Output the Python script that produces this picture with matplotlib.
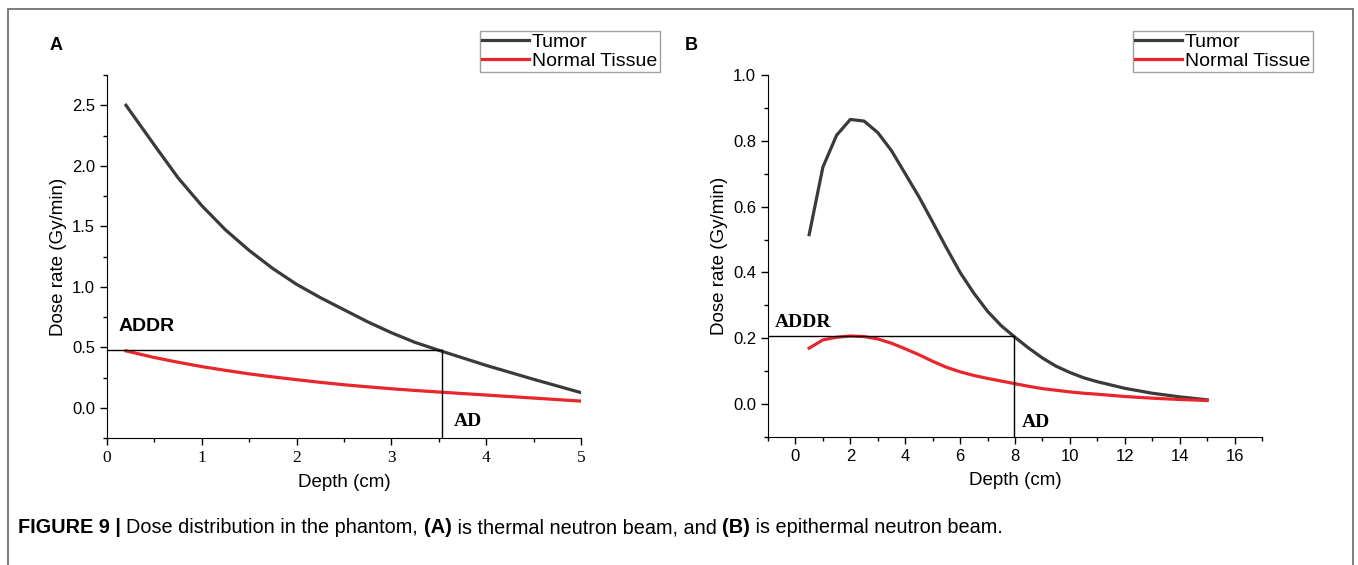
import numpy as np
import matplotlib.pyplot as plt
from matplotlib.patches import Rectangle
from matplotlib.ticker import MultipleLocator

plt.rcParams['font.family'] = ['Liberation Sans', 'DejaVu Sans']

# panel A: thermal neutron beam
depth_a = [0.2, 0.5, 0.75, 1.0, 1.25, 1.5, 1.75, 2.0, 2.25, 2.5, 2.75, 3.0, 3.25, 3.5,
           4.0, 4.5, 5.0]
tumor_a = [2.50, 2.17, 1.90, 1.67, 1.47, 1.30, 1.15, 1.02, 0.91, 0.81, 0.71, 0.62, 0.54,
           0.475, 0.35, 0.235, 0.125]
normal_a = [0.47, 0.415, 0.376, 0.34, 0.309, 0.28, 0.255, 0.232, 0.21, 0.19, 0.173,
            0.157, 0.143, 0.13, 0.105, 0.08, 0.055]
addr_a, ad_a = 0.475, 3.53

# panel B: epithermal neutron beam
depth_b = [0.5, 1.0, 1.5, 2.0, 2.5, 3.0, 3.5, 4.0, 4.5, 5.0, 5.5, 6.0, 6.5, 7.0,
           7.5, 8.0, 8.5, 9.0, 9.5, 10.0, 10.5, 11.0, 12.0, 13.0, 14.0, 15.0]
tumor_b = [0.515, 0.72, 0.817, 0.865, 0.86, 0.825, 0.77, 0.70, 0.63, 0.553, 0.475, 0.40,
           0.337, 0.282, 0.238, 0.203, 0.17, 0.14, 0.115, 0.096, 0.08, 0.068, 0.048,
           0.033, 0.022, 0.013]
normal_b = [0.17, 0.195, 0.203, 0.207, 0.205, 0.198, 0.185, 0.168, 0.15, 0.13, 0.112,
            0.098, 0.087, 0.078, 0.07, 0.062, 0.054, 0.047, 0.042, 0.037, 0.033, 0.03,
            0.023, 0.018, 0.014, 0.011]
addr_b, ad_b = 0.207, 7.95

tumor_col = '#3a3a3a'
normal_col = '#e8262b'

fig = plt.figure(figsize=(13.58, 5.65), dpi=100)

# outer frame of the figure panel
fig.patches.append(Rectangle((8 / 1358, -0.02), 1345 / 1358, 1.02 - 9 / 565,
                             transform=fig.transFigure, fill=False,
                             edgecolor='#666666', lw=1.2))


def style_axes(ax):
    ax.spines['top'].set_visible(False)
    ax.spines['right'].set_visible(False)
    ax.tick_params(which='major', direction='out', length=5, width=1, labelsize=12)
    ax.tick_params(which='minor', direction='out', length=3, width=1)
    ax.set_xlabel('Depth (cm)', fontsize=13.5, labelpad=6)
    ax.set_ylabel('Dose rate (Gy/min)', fontsize=13.5)


def add_legend(ax, x_px):
    ax.legend(loc='upper left', bbox_to_anchor=(x_px / 1358, 1 - 31 / 565),
              bbox_transform=fig.transFigure, fontsize=14, frameon=True,
              fancybox=False, edgecolor='#888888', handlelength=2.4,
              handletextpad=0.15, borderpad=0.12, labelspacing=0.05,
              borderaxespad=0)


# ---- panel A
ax = fig.add_axes([107 / 1358, 1 - 438 / 565, 474 / 1358, 363 / 565])
ax.plot(depth_a, tumor_a, color=tumor_col, lw=2.3, label='Tumor')
ax.plot(depth_a, normal_a, color=normal_col, lw=2.3, label='Normal Tissue')
ax.plot([0, ad_a], [addr_a, addr_a], color='black', lw=1)
ax.plot([ad_a, ad_a], [-0.25, addr_a], color='black', lw=1)
ax.set_xlim(0, 5)
ax.set_ylim(-0.25, 2.75)
ax.xaxis.set_major_locator(MultipleLocator(1))
ax.xaxis.set_minor_locator(MultipleLocator(0.5))
ax.yaxis.set_major_locator(MultipleLocator(0.5))
ax.yaxis.set_minor_locator(MultipleLocator(0.25))
style_axes(ax)
for lab in ax.get_xticklabels():
    lab.set_family('Liberation Serif')
    lab.set_fontsize(12.5)
ax.text(0.12, 0.6, 'ADDR', fontsize=14, fontweight='bold', va='bottom')
ax.text(3.66, -0.11, 'AD', fontsize=14, fontweight='bold', va='center',
        family='Liberation Serif')
add_legend(ax, 480)
fig.text(50 / 1358, 1 - 45 / 565, 'A', fontsize=13, fontweight='bold', va='center')

# ---- panel B
ax = fig.add_axes([768 / 1358, 1 - 437 / 565, 494 / 1358, 362 / 565])
ax.plot(depth_b, tumor_b, color=tumor_col, lw=2.3, label='Tumor')
ax.plot(depth_b, normal_b, color=normal_col, lw=2.3, label='Normal Tissue')
ax.plot([-1, ad_b], [addr_b, addr_b], color='black', lw=1)
ax.plot([ad_b, ad_b], [-0.1, addr_b], color='black', lw=1)
ax.set_xlim(-1, 17)
ax.set_ylim(-0.1, 1.0)
ax.xaxis.set_major_locator(MultipleLocator(2))
ax.xaxis.set_minor_locator(MultipleLocator(1))
ax.yaxis.set_major_locator(MultipleLocator(0.2))
ax.yaxis.set_minor_locator(MultipleLocator(0.1))
ax.yaxis.set_major_formatter(plt.FormatStrFormatter('%.1f'))
style_axes(ax)
ax.text(-0.75, 0.222, 'ADDR', fontsize=14, fontweight='bold', va='bottom',
        family='Liberation Serif')
ax.text(8.25, -0.055, 'AD', fontsize=14, fontweight='bold', va='center',
        family='Liberation Serif')
add_legend(ax, 1133)
fig.text(685 / 1358, 1 - 45 / 565, 'B', fontsize=13, fontweight='bold', va='center')

# ---- caption: bold and normal pieces placed one after another
pieces = [('FIGURE 9 | ', 'bold'), ('Dose distribution in the phantom, ', 'normal'),
          ('(A)', 'bold'), (' is thermal neutron beam, and ', 'normal'),
          ('(B)', 'bold'), (' is epithermal neutron beam.', 'normal')]
cap_texts = [fig.text(0, 0, txt, fontsize=14.3, fontweight=wt, va='baseline')
             for txt, wt in pieces]
fig.canvas.draw()
r = fig.canvas.get_renderer()
x0 = 18
for t in cap_texts:
    t.set_position((x0 / 1358, 1 - 533 / 565))
    x0 += t.get_window_extent(r).width

fig.savefig('out.png', dpi=100)
